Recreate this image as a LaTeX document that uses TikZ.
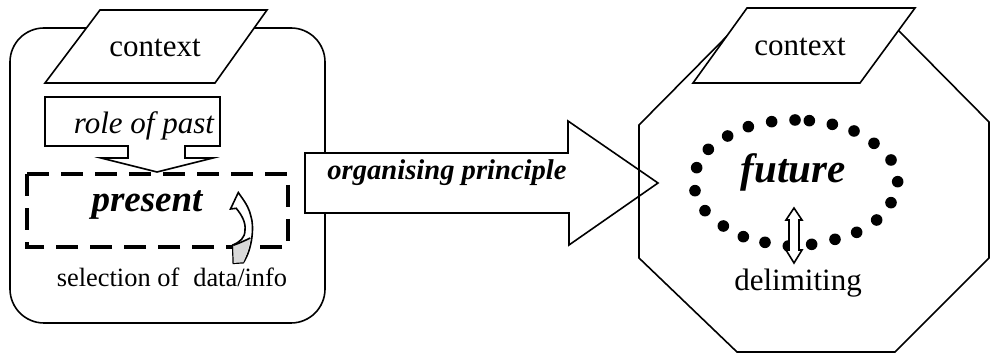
\documentclass[tikz,border=0pt]{standalone}
\usepackage{fontspec}
\setmainfont{Liberation Serif}
\begin{document}
\begin{tikzpicture}[x=0.5pt,y=-0.5pt, line width=0.8pt, line join=miter,
  txt/.style={inner sep=0pt, font=\fontsize{15.5}{18}\selectfont},
  shapeline/.style={draw=black, fill=white},
  dotmark/.style={fill=black, draw=none}]
\useasboundingbox (0,0) rectangle (990,357);
% ---------------- left part ----------------
\draw[rounded corners=17pt] (10,28) rectangle (325,323);
\draw[shapeline] (100,10) -- (267,10) -- (215,83) -- (45,83) -- cycle;
\node[txt] (ctxL) at (155,48) {context};
% role of past callout
\draw[shapeline] (45,97) -- (220,97) -- (220,146) -- (185,146) -- (185,158) -- (213,158)
  -- (157,172) -- (101,158) -- (128,158) -- (128,146) -- (45,146) -- cycle;
\node[inner sep=0pt, font=\fontsize{15.5}{18}\selectfont\itshape] (past) at (144,126) {role of past};
% dashed present box
\draw[line width=2pt, dash pattern=on 11pt off 6pt] (27,174) -- (288,174) -- (288,247) -- (27,247) -- cycle;
\node[inner sep=0pt, font=\fontsize{18.5}{22}\selectfont\bfseries\itshape] (present) at (147,205) {present};
% curled arrow
\draw[shapeline] (243.3,262.7) .. controls (253,248) and (254,225) .. (251,216.7)
  .. controls (249,208) and (246,204) .. (244,200.7)
  -- (238.3,192.5) -- (230.5,209) -- (236.2,208.3)
  .. controls (241,214) and (246,222) .. (245,230)
  .. controls (245,238) and (240,242) .. (232.7,245)
  -- (233.3,263.3) -- cycle;
\fill[gray!30] (233.3,245.3) .. controls (240,243) and (246,240) .. (250.3,238)
  .. controls (249,248) and (246,256) .. (243.3,262.3) -- (233.6,262.9) -- cycle;
\draw (233.3,245.3) .. controls (240,243) and (246,240) .. (250.3,238);
\node[txt, font=\fontsize{13.2}{16}\selectfont] (sel) at (172,277) {selection of\hspace{7pt}data/info};
% ---------------- big arrow ----------------
\draw[shapeline] (305,153) -- (568,153) -- (568,121) -- (658,183) -- (569,245) -- (569,213) -- (305,213) -- cycle;
\node[inner sep=0pt, font=\fontsize{14.3}{17}\selectfont\bfseries\itshape] (org) at (447,173) {organising principle};
% ---------------- right part ----------------
\draw (639,125) -- (735,28) -- (896,28) -- (989,122) -- (989,258) -- (895,352) -- (737,352) -- (639,258) -- cycle;
\draw[shapeline] (747,8) -- (915,8) -- (860,83) -- (693,83) -- cycle;
\node[txt] (ctxR) at (800,47) {context};
\node[inner sep=0pt, font=\fontsize{20.5}{24}\selectfont\bfseries\itshape] (future) at (793,172) {future};
\foreach \zx/\zy in {445/380,515/365,585/360,628/362,697/373,762/393,822/430,873/480,893/545,873/608,830/660,770/697,705/718,635/733,565/738,495/727,430/710,370/678,315/632,285/572,290/503,325/448,383/408}
  \fill[dotmark] ({600+\zx/3},{\zy/3}) circle (2.9pt);
% double arrow
\draw[shapeline] (794,208) -- (802,220) -- (799,220) -- (799,250) -- (802,250) -- (794,263)
  -- (786,250) -- (789,250) -- (789,220) -- (786,220) -- cycle;
\node[txt] (delim) at (798,283) {delimiting};
\end{tikzpicture}
\end{document}
